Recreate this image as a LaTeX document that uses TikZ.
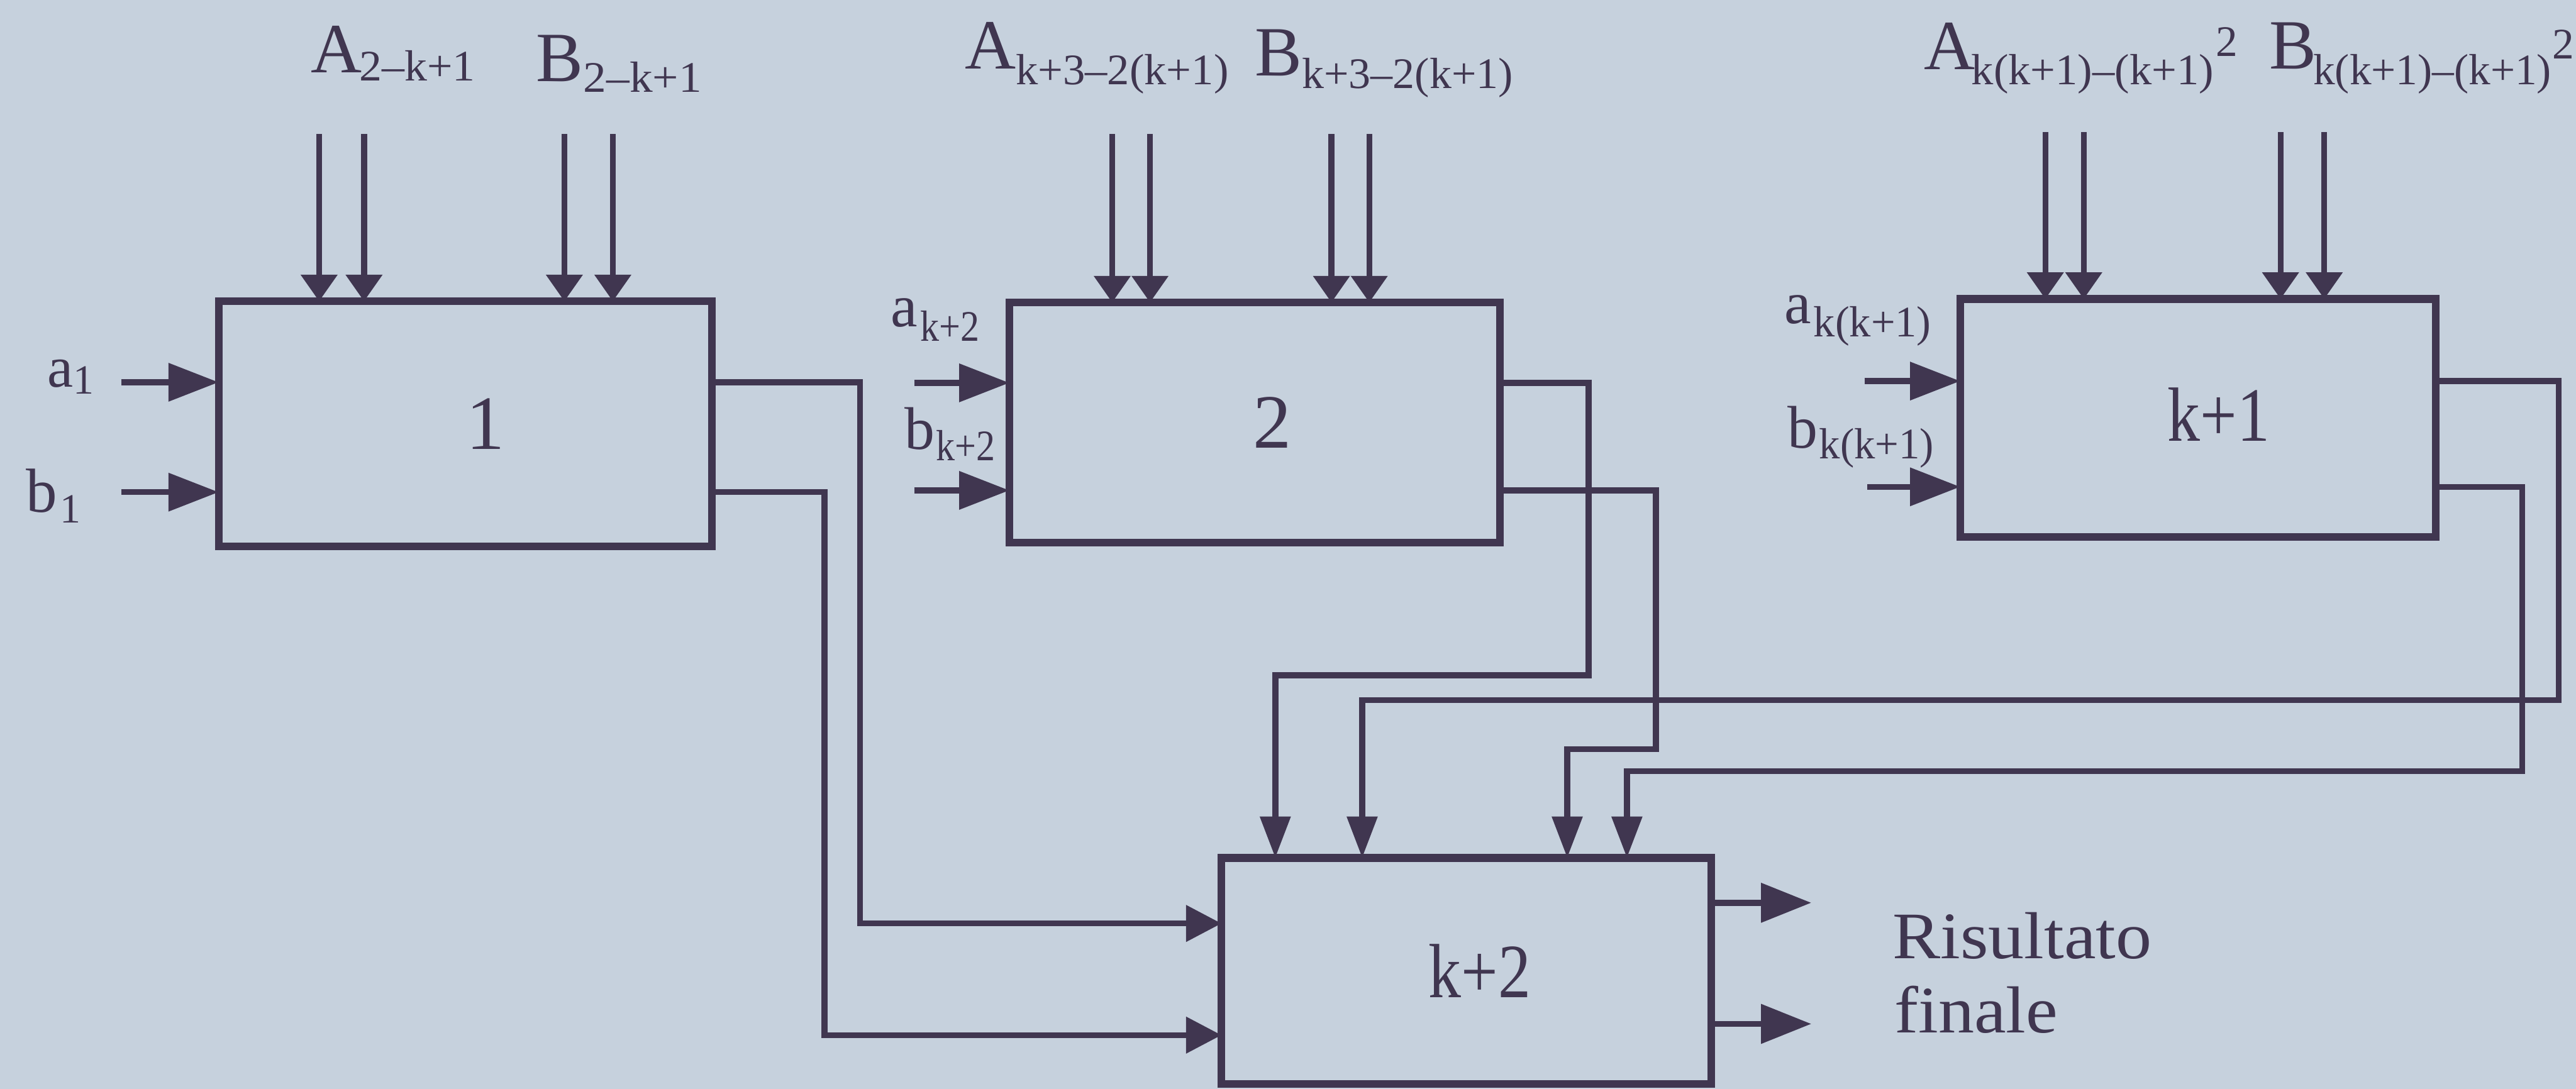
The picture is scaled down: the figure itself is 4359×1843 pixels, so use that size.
\documentclass[tikz,border=0pt]{standalone}
\usepackage{fontspec}
\setmainfont{Liberation Serif}
\usetikzlibrary{arrows.meta}
\definecolor{bg}{RGB}{198,209,221}
\definecolor{ink}{RGB}{64,54,80}
\newcommand{\Mn}[1]{{\fontsize{34}{34}\selectfont #1}}
\newcommand{\Sub}[3]{\raisebox{-#2}{\resizebox{#1}{\height}{\fontsize{21}{21}\selectfont #3}}}
\newcommand{\Sup}[1]{\raisebox{#1}{\fontsize{21}{21}\selectfont 2}}
\begin{document}
\begin{tikzpicture}[x=0.1mm,y=-0.1mm,
 blk/.style={draw=ink,line width=1.3mm,inner sep=0pt,outer sep=0pt,anchor=north west,text=ink,font=\fontsize{37}{37}\selectfont},
 wire/.style={draw=ink,line width=1mm},
 sidein/.style={wire,-{Triangle[length=8.5mm,width=6.3mm]}},
 topin/.style={wire,-{Triangle[length=4.5mm,width=6mm]}},
 downin/.style={wire,-{Triangle[length=7mm,width=5mm]}},
 leftin/.style={wire,-{Triangle[length=6mm,width=6mm]}},
 outarr/.style={wire,-{Triangle[length=8.5mm,width=6.5mm]}},
 lab/.style={text=ink,inner sep=0pt,anchor=base west}]
\fill[bg] (0,0) rectangle (4359,1843);
\useasboundingbox (0,0) rectangle (4359,1843);

% blocks
\node[blk,minimum width=83.5mm,minimum height=41.5mm] (b1) at (370,510) {\hspace{6.8mm}1};
\node[blk,minimum width=83mm,minimum height=40.6mm] (b2) at (1708,512) {\hspace{6mm}2};
\node[blk,minimum width=80.5mm,minimum height=40.3mm] (b3) at (3317,506) {\hspace{7mm}\raisebox{1.3mm}{\scalebox{0.85}[1]{k+1}}};
\node[blk,minimum width=82.9mm,minimum height=38.3mm] (b4) at (2067,1452) {\hspace{4.5mm}\raisebox{-2.5mm}{\scalebox{0.85}[1]{k+2}}};

% top input labels
\node[lab] (lA1) at (526,123) {\Mn{A}\hspace{-0.5mm}\Sub{19.6mm}{1.4mm}{2–k+1}};
\node[lab] (lB1) at (907,138) {\Mn{B}\Sub{20mm}{1.8mm}{2–k+1}};
\node[lab] (lA2) at (1632,117) {\Mn{A}\Sub{36mm}{2.6mm}{k+3–2(k+1)}};
\node[lab] (lB2) at (2123,128) {\Mn{B}\Sub{35.7mm}{2.2mm}{k+3–2(k+1)}};
\node[lab] (lA3) at (3255,118) {\Mn{A}\hspace{-0.6mm}\Sub{41mm}{2.5mm}{k(k+1)–(k+1)}\hspace{0.4mm}\Sup{2.3mm}};
\node[lab] (lB3) at (3839,117) {\Mn{B}\hspace{-0.5mm}\Sub{40.3mm}{2.6mm}{k(k+1)–(k+1)}\hspace{0.2mm}\Sup{1.7mm}};

% left input labels
\node[lab] (la1) at (80,655) {\fontsize{28}{28}\selectfont a\raisebox{-1.2mm}{\fontsize{20}{20}\selectfont 1}};
\node[lab] (lb1) at (43,867) {\fontsize{30}{30}\selectfont b\hspace{0.5mm}\raisebox{-1.8mm}{\fontsize{20}{20}\selectfont 1}};
\node[lab] (la2) at (1507,553) {\fontsize{29}{29}\selectfont a\hspace{0.5mm}\Sub{10mm}{2.4mm}{k+2}};
\node[lab] (lb2) at (1530,760) {\fontsize{29}{29}\selectfont b\hspace{0.2mm}\Sub{10mm}{2mm}{k+2}};
\node[lab] (la3) at (3019,548) {\fontsize{29}{29}\selectfont a\hspace{0.4mm}\Sub{19.9mm}{2.2mm}{k(k+1)}};
\node[lab] (lb3) at (3024,758) {\fontsize{29}{29}\selectfont b\hspace{0.3mm}\Sub{19.4mm}{1.8mm}{k(k+1)}};

% result labels
\node[lab] (res1) at (3202,1622) {\fontsize{32}{32}\selectfont\scalebox{1.08}[1]{Risultato}};
\node[lab] (res2) at (3205,1748) {\fontsize{32}{32}\selectfont\scalebox{1.08}[1]{finale}};

% free ends of inputs
\coordinate (a1) at (205,647);  \coordinate (bb1) at (205,833);
\coordinate (a2) at (1547,648); \coordinate (bb2) at (1547,830);
\coordinate (a3) at (3155,645); \coordinate (bb3) at (3160,824);
\coordinate (t11) at (540,227);  \coordinate (t12) at (616,227);
\coordinate (t13) at (955,227);  \coordinate (t14) at (1037,227);
\coordinate (t21) at (1882,227); \coordinate (t22) at (1946,227);
\coordinate (t23) at (2253,227); \coordinate (t24) at (2317,227);
\coordinate (t31) at (3461,224); \coordinate (t32) at (3526,224);
\coordinate (t33) at (3859,224); \coordinate (t34) at (3933,224);

% side inputs
\foreach \p/\b in {a1/b1,bb1/b1,a2/b2,bb2/b2,a3/b3,bb3/b3}
  \draw[sidein] (\p) -- (\p -| \b.west);
% top inputs
\foreach \p/\b in {t11/b1,t12/b1,t13/b1,t14/b1,t21/b2,t22/b2,t23/b2,t24/b2,t31/b3,t32/b3,t33/b3,t34/b3}
  \draw[topin] (\p) -- (\p |- \b.north);

% bends
\coordinate (k11) at (1455,1563);
\coordinate (k12) at (1395,1752);
\coordinate (k21a) at (2688,1143); \coordinate (k21b) at (2158,1143);
\coordinate (k22a) at (2802,1268); \coordinate (k22b) at (2652,1268);
\coordinate (k31a) at (4330,1185); \coordinate (k31b) at (2305,1185);
\coordinate (k32a) at (4268,1305); \coordinate (k32b) at (2753,1305);

% block 1 outputs
\draw[leftin] (a1 -| b1.east) -| (k11) -- (k11 -| b4.west);
\draw[leftin] (bb1 -| b1.east) -| (k12) -- (k12 -| b4.west);
% block 2 outputs
\draw[downin] (a2 -| b2.east) -| (k21a) -- (k21b) -- (k21b |- b4.north);
\draw[downin] (bb2 -| b2.east) -| (k22a) -- (k22b) -- (k22b |- b4.north);
% block k+1 outputs
\draw[downin] (a3 -| b3.east) -| (k31a) -- (k31b) -- (k31b |- b4.north);
\draw[downin] (bb3 -| b3.east) -| (k32a) -- (k32b) -- (k32b |- b4.north);

% final outputs
\coordinate (r1) at (3065,1528); \coordinate (r2) at (3065,1733);
\draw[outarr] (r1 -| b4.east) -- (r1);
\draw[outarr] (r2 -| b4.east) -- (r2);
\end{tikzpicture}
\end{document}
